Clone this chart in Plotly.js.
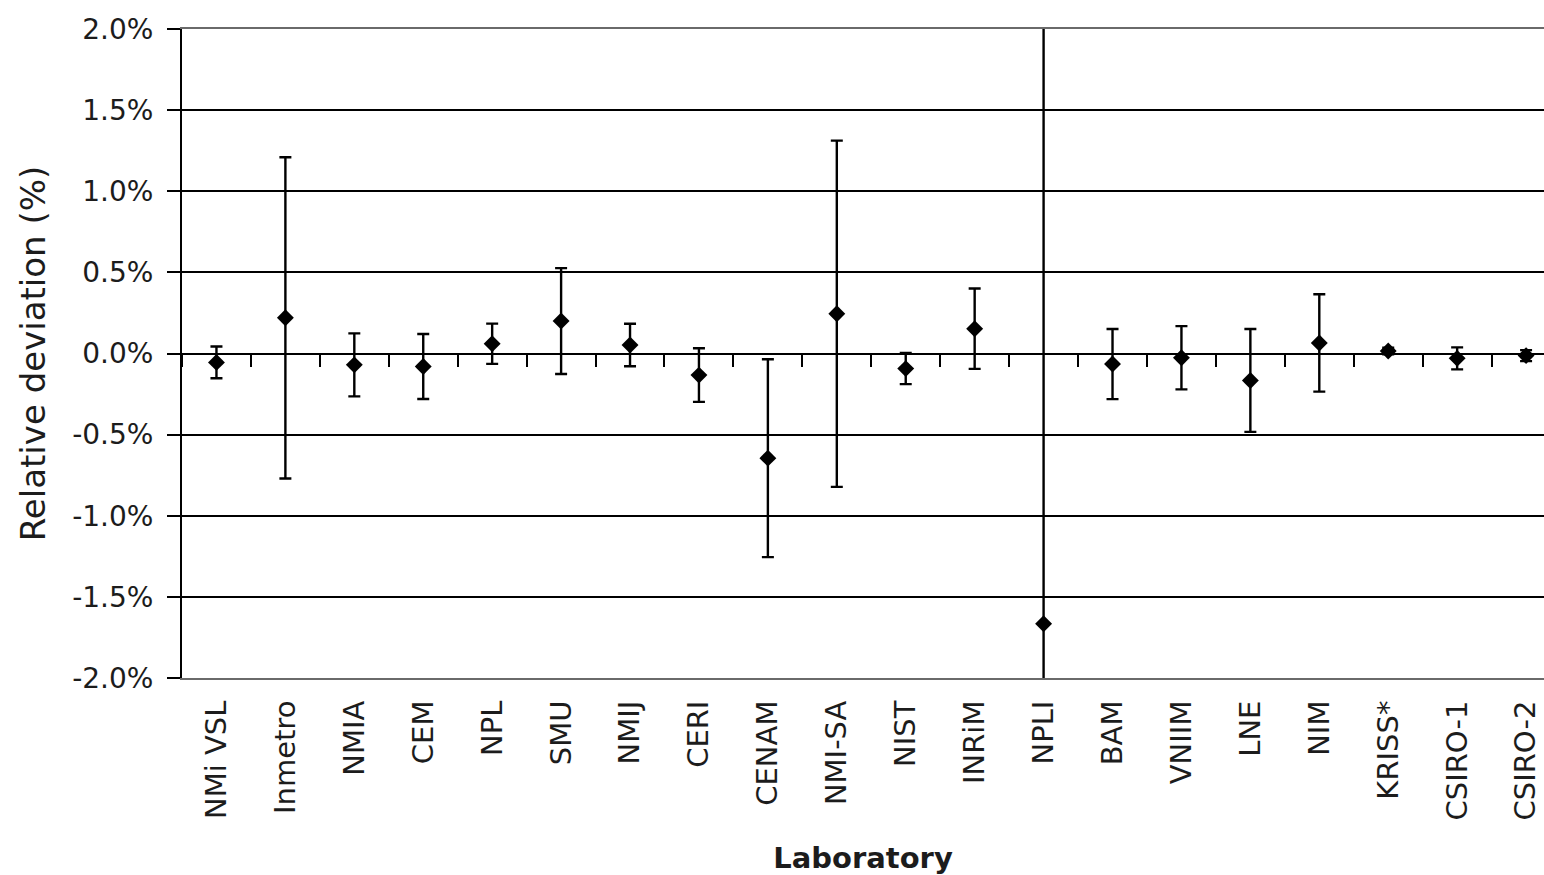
<!DOCTYPE html>
<html>
<head>
<meta charset="utf-8">
<script src="https://cdn.plot.ly/plotly-3.0.1.min.js"></script>
<style>
  html, body { margin: 0; padding: 0; background: #ffffff; }
  #chart { width: 1544px; height: 875px; }
</style>
</head>
<body>
<div id="chart"></div>
<script>
// Laboratories (categories)
const labs = ["NMi VSL", "Inmetro", "NMIA", "CEM", "NPL", "SMU", "NMIJ", "CERI", "CENAM", "NMI-SA",
              "NIST", "INRiM", "NPLI", "BAM", "VNIIM", "LNE", "NIM", "KRISS*", "CSIRO-1", "CSIRO-2"];
// Relative deviation (%)
const deviation = [-0.055, 0.22, -0.07, -0.08, 0.06, 0.20, 0.052, -0.133, -0.645, 0.245,
                   -0.093, 0.153, -1.666, -0.065, -0.026, -0.166, 0.065, 0.015, -0.03, -0.013];
// Expanded uncertainty (%)
const uncertainty = [0.098, 0.99, 0.194, 0.20, 0.124, 0.326, 0.131, 0.165, 0.61, 1.067,
                     0.096, 0.248, 3.7, 0.216, 0.195, 0.317, 0.30, 0.02, 0.068, 0.034];
// Y tick values and labels
const yTickVals = [-2.0, -1.5, -1.0, -0.5, 0.0, 0.5, 1.0, 1.5, 2.0];
const yTickText = ["-2.0%", "-1.5%", "-1.0%", "-0.5%", "0.0%", "0.5%", "1.0%", "1.5%", "2.0%"];

const FONT = "DejaVu Sans, Verdana, sans-serif";
const TXT = "#1c1c1c";
const xRange = [-0.5, 19.26];

const trace = {
  type: "scatter",
  mode: "markers",
  x: labs,
  y: deviation,
  xaxis: "x",
  yaxis: "y",
  cliponaxis: true,
  marker: { symbol: "diamond", size: 13, color: "#000000", line: { width: 0 } },
  error_y: {
    type: "data",
    array: uncertainty,
    symmetric: true,
    visible: true,
    color: "#000000",
    thickness: 2.4,
    width: 6
  },
  hoverinfo: "x+y"
};

// Carrier for the category axis crossing at 0 % (draws nothing itself)
const axisCarrier = {
  type: "scatter",
  mode: "none",
  x: labs,
  y: deviation,
  xaxis: "x2",
  yaxis: "y",
  hoverinfo: "skip",
  showlegend: false
};

const layout = {
  width: 1544,
  height: 875,
  margin: { l: 182, r: 0, t: 29, b: 197, pad: 0 },
  paper_bgcolor: "#ffffff",
  plot_bgcolor: "#ffffff",
  showlegend: false,
  font: { family: FONT, color: TXT, size: 28 },
  xaxis: {
    type: "category",
    categoryorder: "array",
    categoryarray: labs,
    range: xRange,
    showgrid: false,
    zeroline: false,
    showline: true,
    mirror: true,
    linecolor: "#6a6a6a",
    linewidth: 2,
    ticks: "",
    tickangle: -90,
    ticklabelstandoff: 9,
    tickfont: { family: FONT, size: 29, color: TXT },
    automargin: false,
    title: {
      text: "<b>Laboratory</b>",
      font: { family: FONT, size: 29, color: TXT },
      standoff: 30
    }
  },
  xaxis2: {
    type: "category",
    categoryorder: "array",
    categoryarray: labs,
    range: xRange,
    overlaying: "x",
    anchor: "free",
    position: 0.5,
    side: "bottom",
    showgrid: false,
    zeroline: false,
    showline: true,
    linecolor: "#000000",
    linewidth: 2,
    ticks: "outside",
    tickson: "boundaries",
    ticklen: 12,
    tickwidth: 2,
    tickcolor: "#000000",
    showticklabels: false,
    automargin: false,
    layer: "above traces"
  },
  yaxis: {
    range: [-2.0, 2.0],
    tickmode: "array",
    tickvals: yTickVals,
    ticktext: yTickText,
    showgrid: true,
    gridcolor: "#000000",
    gridwidth: 2,
    zeroline: false,
    showline: true,
    linecolor: "#000000",
    linewidth: 2,
    ticks: "outside",
    ticklen: 13,
    tickwidth: 2,
    tickcolor: "#000000",
    ticklabelstandoff: 8,
    tickfont: { family: FONT, size: 28, color: TXT },
    automargin: false,
    title: {
      text: "Relative deviation (%)",
      font: { family: FONT, size: 34, color: TXT },
      standoff: 16
    }
  }
};

Plotly.newPlot("chart", [trace, axisCarrier], layout, { displayModeBar: false, staticPlot: true });
</script>
</body>
</html>
